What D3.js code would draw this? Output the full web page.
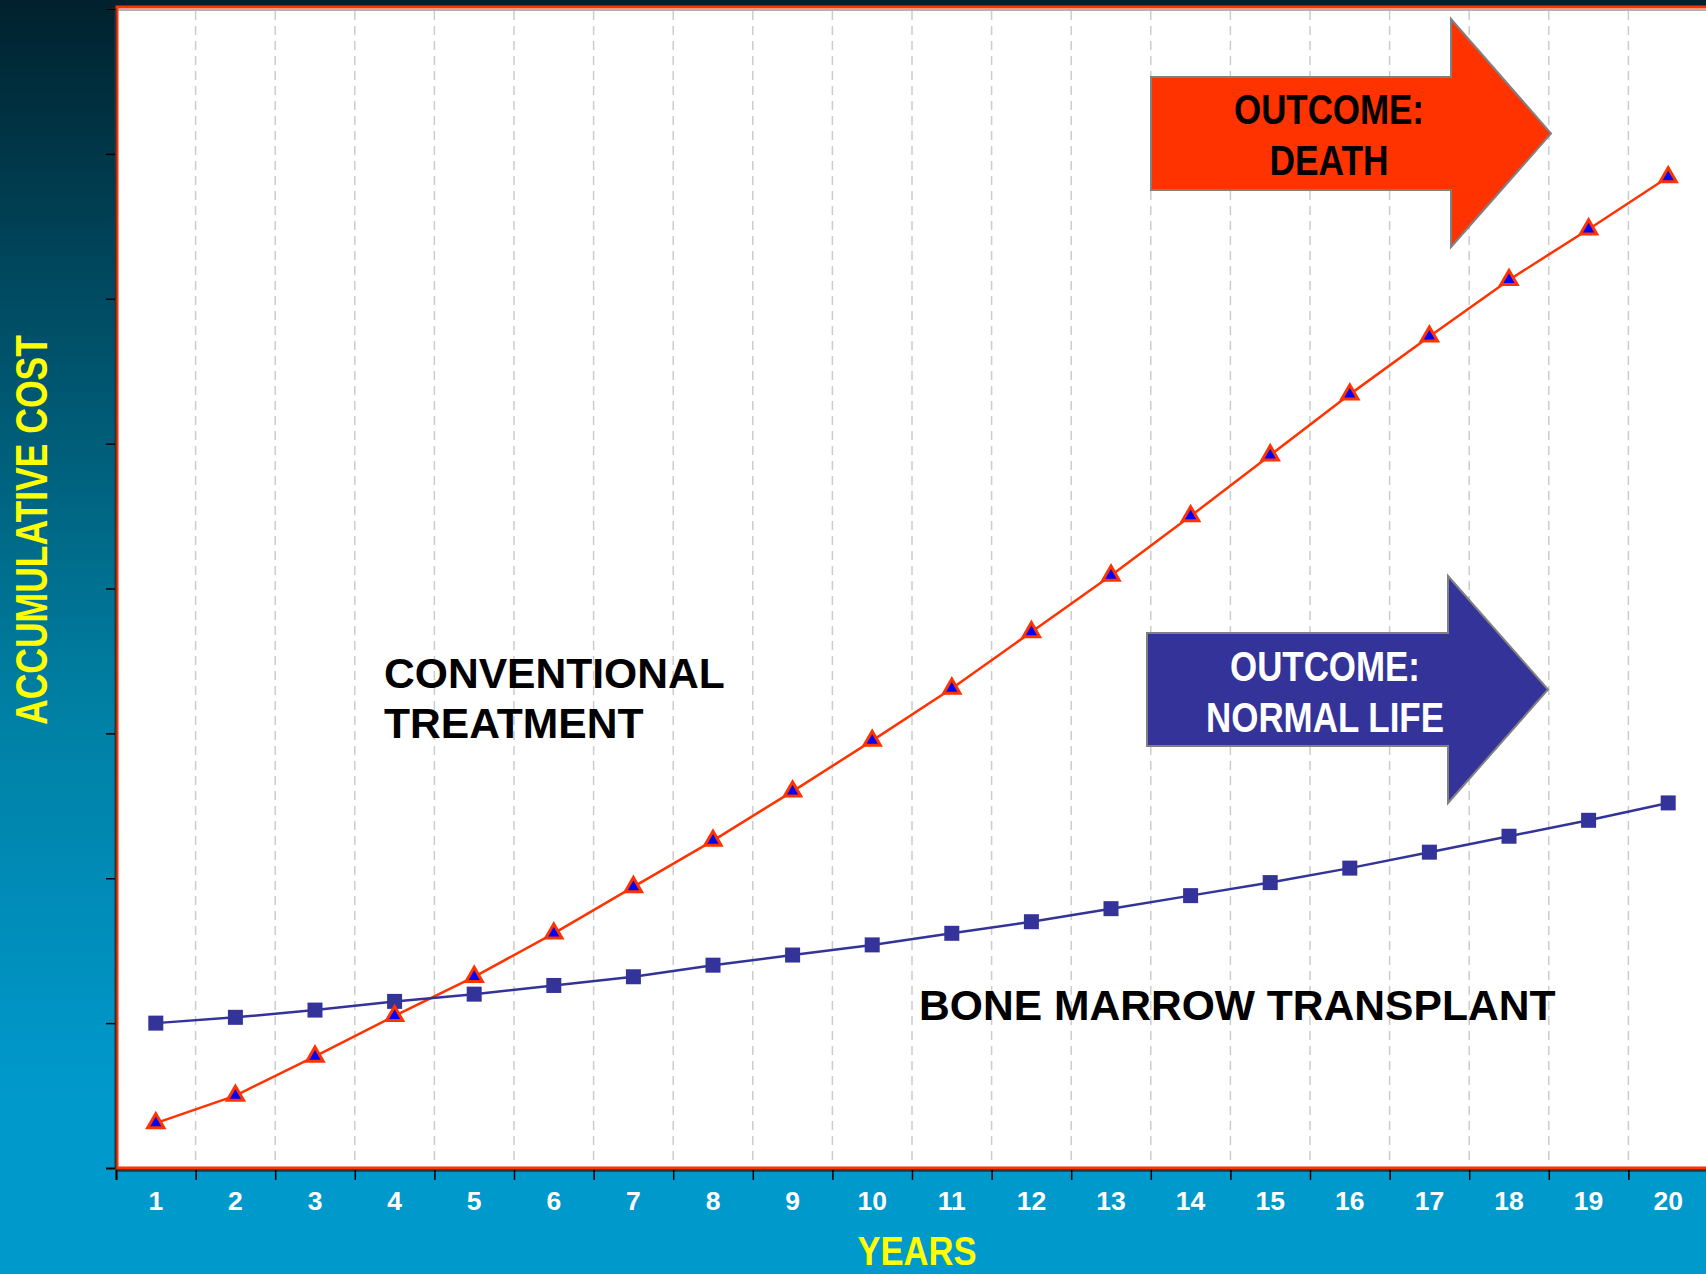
<!DOCTYPE html>
<html>
<head>
<meta charset="utf-8">
<script src="https://cdn.jsdelivr.net/npm/d3@7"></script>
<style>
  html, body { margin: 0; padding: 0; background: #0099cc; }
  svg { display: block; }
</style>
</head>
<body>
<svg id="chart" width="1706" height="1274"></svg>
<script>
// years on the x axis
var years = d3.range(1, 21);
var yearLabels = years.map(String);

// accumulative cost (arbitrary units)
var transplant = [1.00, 1.04, 1.09, 1.15, 1.20, 1.26, 1.32, 1.40, 1.47, 1.54,
                  1.62, 1.70, 1.79, 1.88, 1.97, 2.07, 2.18, 2.29, 2.40, 2.52];
var conventional = [0.31, 0.50, 0.77, 1.05, 1.32, 1.62, 1.94, 2.26, 2.60, 2.95,
                    3.31, 3.70, 4.09, 4.50, 4.92, 5.34, 5.74, 6.13, 6.48, 6.84];
var yTicks = d3.range(0, 9);

var svg = d3.select('#chart');
var W = 1706, H = 1274;
var margin = { top: 8, left: 116, bottom: 106, right: -2 };

// background gradient
var defs = svg.append("defs");
var grad = defs.append("linearGradient")
    .attr("id", "bg").attr("x1", 0).attr("y1", 0).attr("x2", 0).attr("y2", 1);
[[0, "#00212d"], [0.24, "#004c63"], [0.55, "#007fa3"], [0.86, "#0099cc"], [1, "#0099cc"]]
    .forEach(function (s) { grad.append("stop").attr("offset", s[0]).attr("stop-color", s[1]); });
svg.append("rect").attr("width", W).attr("height", H).attr("fill", "url(#bg)");

var x = d3.scaleBand().domain(years).range([margin.left, W - margin.right]);
var y = d3.scaleLinear().domain([0, 8]).range([H - margin.bottom, margin.top + 1]);

// plot area
svg.append("rect")
    .attr("x", margin.left + 1).attr("y", margin.top - 1)
    .attr("width", W - margin.left + 4).attr("height", H - margin.bottom - margin.top + 1)
    .attr("fill", "#ffffff").attr("stroke", "#ff3300").attr("stroke-width", 3);
svg.append("line")
    .attr("x1", margin.left + 2).attr("x2", W).attr("y1", margin.top + 2).attr("y2", margin.top + 2)
    .attr("stroke", "#999").attr("stroke-width", 1.5);

// vertical dashed grid at band edges
var edges = years.slice(1).map(function (d) { return x(d); });
svg.append("g").selectAll("line").data(edges).enter().append("line")
    .attr("x1", function (d) { return d; }).attr("x2", function (d) { return d; })
    .attr("y1", margin.top + 3).attr("y2", H - margin.bottom - 2)
    .attr("stroke", "#cccccc").attr("stroke-width", 1.5)
    .attr("stroke-dasharray", "9,6");

// y axis (ticks only, no labels)
var yAxis = d3.axisLeft(y).tickValues(yTicks).tickSize(9).tickFormat("");
var gy = svg.append("g").attr("transform", "translate(" + (margin.left - 1) + ",0)").call(yAxis);
gy.select(".domain").attr("stroke", "#333").attr("stroke-width", 2);
gy.selectAll(".tick line").attr("stroke", "#000").attr("stroke-width", 1.5);

// x axis: ticks on band edges, labels centred
var xEdge = d3.scaleLinear().domain([0, 20]).range([margin.left, margin.left + 20 * x.bandwidth()]);
var gx = svg.append("g").attr("transform", "translate(0," + (H - margin.bottom + 2) + ")")
    .call(d3.axisBottom(xEdge).ticks(20).tickSize(10).tickFormat(""));
gx.select(".domain").attr("stroke", "#333").attr("stroke-width", 2.5);
gx.selectAll(".tick line").attr("stroke", "#000").attr("stroke-width", 1.5);

svg.append("g").selectAll("text").data(years).enter().append("text")
    .attr("x", function (d) { return x(d) + x.bandwidth() / 2; })
    .attr("y", 1210)
    .attr("text-anchor", "middle")
    .attr("fill", "#ffffff")
    .style("font-family", "'Liberation Sans', Arial, sans-serif")
    .style("font-weight", "bold").style("font-size", "26.5px")
    .text(function (d, i) { return yearLabels[i]; });

// lines
var cx = function (d, i) { return x(years[i]) + x.bandwidth() / 2; };
var line = d3.line().x(cx).y(function (d) { return y(d); });

svg.append("path").datum(conventional)
    .attr("d", line).attr("fill", "none")
    .attr("stroke", "#ff3300").attr("stroke-width", 2.5);
svg.append("path").datum(transplant)
    .attr("d", line).attr("fill", "none")
    .attr("stroke", "#333399").attr("stroke-width", 2.5);

// markers
svg.append("g").selectAll("rect").data(transplant).enter().append("rect")
    .attr("x", function (d, i) { return cx(d, i) - 7.5; })
    .attr("y", function (d) { return y(d) - 7.5; })
    .attr("width", 15).attr("height", 15)
    .attr("fill", "#333399");

var tri = d3.symbol().type(d3.symbolTriangle).size(115);
svg.append("g").selectAll("path").data(conventional).enter().append("path")
    .attr("d", tri)
    .attr("transform", function (d, i) { return "translate(" + cx(d, i) + "," + y(d) + ")"; })
    .attr("fill", "#0000ff").attr("stroke", "#ff3300").attr("stroke-width", 3)
    .attr("stroke-linejoin", "miter");

// series labels
var bold = "'Liberation Sans', Arial, sans-serif";
svg.append("text").attr("x", 384).attr("y", 688)
    .style("font-family", bold).style("font-weight", "bold").style("font-size", "42.6px")
    .attr("fill", "#000").text("CONVENTIONAL");
svg.append("text").attr("x", 384).attr("y", 738)
    .style("font-family", bold).style("font-weight", "bold").style("font-size", "42.6px")
    .attr("fill", "#000").text("TREATMENT");
svg.append("text").attr("x", 919).attr("y", 1020)
    .style("font-family", bold).style("font-weight", "bold").style("font-size", "42.6px")
    .attr("fill", "#000").text("BONE MARROW TRANSPLANT");

// outcome arrows
var narrow = "'Liberation Sans Narrow', 'Arial Narrow', 'Liberation Sans', Arial, sans-serif";
function arrow(x0, y0, bodyH, headX, headTop, headBot, tipX, fill, txtColor, lines, textX, base) {
    var tipY = y0 + bodyH / 2;
    var pts = [[x0, y0], [headX, y0], [headX, headTop], [tipX, tipY], [headX, headBot],
               [headX, y0 + bodyH], [x0, y0 + bodyH]];
    svg.append("path")
        .attr("d", d3.line()(pts) + "Z")
        .attr("fill", fill).attr("stroke", "#808080").attr("stroke-width", 2);
    lines.forEach(function (t, i) {
        svg.append("text").attr("x", textX).attr("y", base[i])
            .attr("text-anchor", "middle")
            .attr("textLength", t[1]).attr("lengthAdjust", "spacingAndGlyphs")
            .style("font-family", narrow).style("font-weight", "bold").style("font-size", "43px")
            .attr("fill", txtColor).text(t[0]);
    });
}
arrow(1151, 77, 113, 1451, 19, 247, 1551, "#ff3300", "#000000",
      [["OUTCOME:", 190], ["DEATH", 119]], 1329, [124, 175]);
arrow(1147, 633, 113, 1448, 576, 803, 1548, "#333399", "#ffffff",
      [["OUTCOME:", 190], ["NORMAL LIFE", 238]], 1325, [681, 732]);

// axis titles
svg.append("text")
    .attr("transform", "translate(47,530) rotate(-90)")
    .attr("text-anchor", "middle")
    .attr("textLength", 390).attr("lengthAdjust", "spacingAndGlyphs")
    .style("font-family", narrow).style("font-weight", "bold").style("font-size", "44px")
    .attr("fill", "#ffff00").text("ACCUMULATIVE COST");
svg.append("text")
    .attr("x", 917).attr("y", 1265)
    .attr("text-anchor", "middle")
    .attr("textLength", 119).attr("lengthAdjust", "spacingAndGlyphs")
    .style("font-family", narrow).style("font-weight", "bold").style("font-size", "41px")
    .attr("fill", "#ffff00").text("YEARS");
</script>
</body>
</html>
